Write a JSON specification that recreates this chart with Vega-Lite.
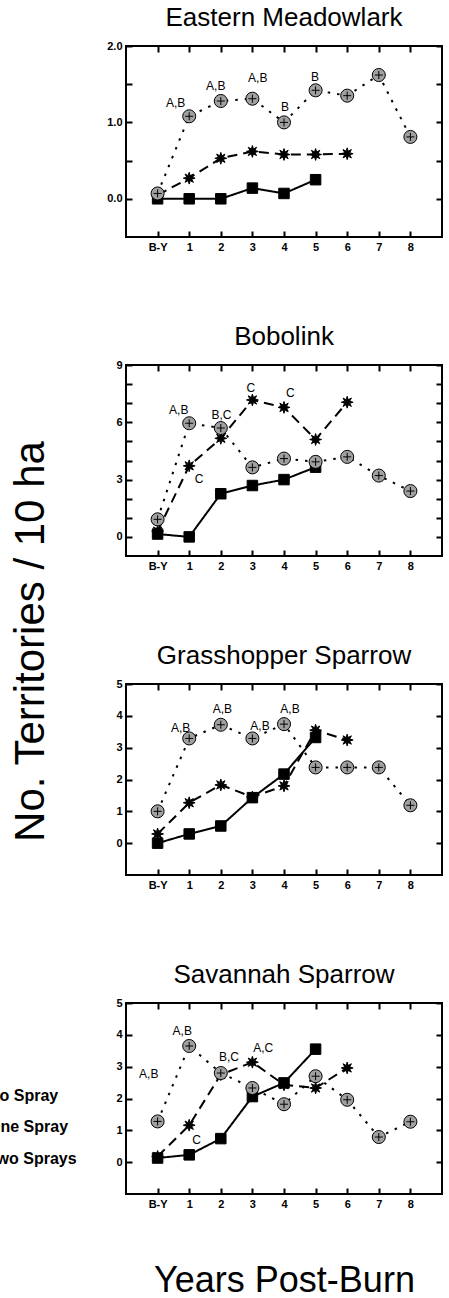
{
  "$schema": "https://vega.github.io/schema/vega-lite/v6.json",
  "padding": {"left": -35, "top": 4, "right": 4, "bottom": 0},
  "background": "white",
  "bounds": "flush",
  "spacing": 128,
  "resolve": {"legend": {"shape": "independent"}},
  "config": {
    "font": "Liberation Sans",
    "view": {"stroke": "black", "strokeWidth": 2},
    "axis": {
      "grid": false, "domain": false, "tickColor": "black", "tickWidth": 2, "tickSize": -6,
      "labelFont": "Liberation Sans", "labelFontWeight": "bold", "labelFontSize": 11,
      "labelColor": "black", "labelPadding": 10
    },
    "legend": {"labelFontSize": 16, "labelFontWeight": "bold", "labelFont": "Liberation Sans", "labelColor": "black", "symbolSize": 100, "labelOffset": 6, "rowPadding": 15.5, "padding": 0, "symbolStrokeColor": "black", "symbolFillColor": "black"},
    "title": {"font": "Liberation Sans", "fontSize": 26, "fontWeight": "normal", "color": "black", "baseline": "alphabetic", "offset": 9, "frame": "group", "anchor": "middle"}
  },
  "datasets": {
    "obs": [
      {"bird": "Eastern Meadowlark", "trt": "No Spray", "year": 0, "value": 0},
      {"bird": "Eastern Meadowlark", "trt": "No Spray", "year": 1, "value": 0},
      {"bird": "Eastern Meadowlark", "trt": "No Spray", "year": 2, "value": 0},
      {"bird": "Eastern Meadowlark", "trt": "No Spray", "year": 3, "value": 0.14},
      {"bird": "Eastern Meadowlark", "trt": "No Spray", "year": 4, "value": 0.07},
      {"bird": "Eastern Meadowlark", "trt": "No Spray", "year": 5, "value": 0.25},
      {"bird": "Eastern Meadowlark", "trt": "One Spray", "year": 0, "value": 0.05},
      {"bird": "Eastern Meadowlark", "trt": "One Spray", "year": 1, "value": 0.27},
      {"bird": "Eastern Meadowlark", "trt": "One Spray", "year": 2, "value": 0.53},
      {"bird": "Eastern Meadowlark", "trt": "One Spray", "year": 3, "value": 0.62},
      {"bird": "Eastern Meadowlark", "trt": "One Spray", "year": 4, "value": 0.58},
      {"bird": "Eastern Meadowlark", "trt": "One Spray", "year": 5, "value": 0.58},
      {"bird": "Eastern Meadowlark", "trt": "One Spray", "year": 6, "value": 0.59},
      {"bird": "Eastern Meadowlark", "trt": "Two Sprays", "year": 0, "value": 0.07},
      {"bird": "Eastern Meadowlark", "trt": "Two Sprays", "year": 1, "value": 1.08},
      {"bird": "Eastern Meadowlark", "trt": "Two Sprays", "year": 2, "value": 1.28},
      {"bird": "Eastern Meadowlark", "trt": "Two Sprays", "year": 3, "value": 1.31},
      {"bird": "Eastern Meadowlark", "trt": "Two Sprays", "year": 4, "value": 1.0},
      {"bird": "Eastern Meadowlark", "trt": "Two Sprays", "year": 5, "value": 1.42},
      {"bird": "Eastern Meadowlark", "trt": "Two Sprays", "year": 6, "value": 1.35},
      {"bird": "Eastern Meadowlark", "trt": "Two Sprays", "year": 7, "value": 1.62},
      {"bird": "Eastern Meadowlark", "trt": "Two Sprays", "year": 8, "value": 0.81},

      {"bird": "Bobolink", "trt": "No Spray", "year": 0, "value": 0.15},
      {"bird": "Bobolink", "trt": "No Spray", "year": 1, "value": 0},
      {"bird": "Bobolink", "trt": "No Spray", "year": 2, "value": 2.26},
      {"bird": "Bobolink", "trt": "No Spray", "year": 3, "value": 2.69},
      {"bird": "Bobolink", "trt": "No Spray", "year": 4, "value": 3.0},
      {"bird": "Bobolink", "trt": "No Spray", "year": 5, "value": 3.65},
      {"bird": "Bobolink", "trt": "One Spray", "year": 0, "value": 0.3},
      {"bird": "Bobolink", "trt": "One Spray", "year": 1, "value": 3.72},
      {"bird": "Bobolink", "trt": "One Spray", "year": 2, "value": 5.16},
      {"bird": "Bobolink", "trt": "One Spray", "year": 3, "value": 7.17},
      {"bird": "Bobolink", "trt": "One Spray", "year": 4, "value": 6.78},
      {"bird": "Bobolink", "trt": "One Spray", "year": 5, "value": 5.1},
      {"bird": "Bobolink", "trt": "One Spray", "year": 6, "value": 7.05},
      {"bird": "Bobolink", "trt": "Two Sprays", "year": 0, "value": 0.92},
      {"bird": "Bobolink", "trt": "Two Sprays", "year": 1, "value": 5.95},
      {"bird": "Bobolink", "trt": "Two Sprays", "year": 2, "value": 5.7},
      {"bird": "Bobolink", "trt": "Two Sprays", "year": 3, "value": 3.64},
      {"bird": "Bobolink", "trt": "Two Sprays", "year": 4, "value": 4.1},
      {"bird": "Bobolink", "trt": "Two Sprays", "year": 5, "value": 3.93},
      {"bird": "Bobolink", "trt": "Two Sprays", "year": 6, "value": 4.19},
      {"bird": "Bobolink", "trt": "Two Sprays", "year": 7, "value": 3.21},
      {"bird": "Bobolink", "trt": "Two Sprays", "year": 8, "value": 2.4},

      {"bird": "Grasshopper Sparrow", "trt": "No Spray", "year": 0, "value": 0},
      {"bird": "Grasshopper Sparrow", "trt": "No Spray", "year": 1, "value": 0.29},
      {"bird": "Grasshopper Sparrow", "trt": "No Spray", "year": 2, "value": 0.54},
      {"bird": "Grasshopper Sparrow", "trt": "No Spray", "year": 3, "value": 1.43},
      {"bird": "Grasshopper Sparrow", "trt": "No Spray", "year": 4, "value": 2.17},
      {"bird": "Grasshopper Sparrow", "trt": "No Spray", "year": 5, "value": 3.32},
      {"bird": "Grasshopper Sparrow", "trt": "One Spray", "year": 0, "value": 0.29},
      {"bird": "Grasshopper Sparrow", "trt": "One Spray", "year": 1, "value": 1.27},
      {"bird": "Grasshopper Sparrow", "trt": "One Spray", "year": 2, "value": 1.83},
      {"bird": "Grasshopper Sparrow", "trt": "One Spray", "year": 3, "value": 1.45},
      {"bird": "Grasshopper Sparrow", "trt": "One Spray", "year": 4, "value": 1.8},
      {"bird": "Grasshopper Sparrow", "trt": "One Spray", "year": 5, "value": 3.55},
      {"bird": "Grasshopper Sparrow", "trt": "One Spray", "year": 6, "value": 3.24},
      {"bird": "Grasshopper Sparrow", "trt": "Two Sprays", "year": 0, "value": 1.0},
      {"bird": "Grasshopper Sparrow", "trt": "Two Sprays", "year": 1, "value": 3.29},
      {"bird": "Grasshopper Sparrow", "trt": "Two Sprays", "year": 2, "value": 3.72},
      {"bird": "Grasshopper Sparrow", "trt": "Two Sprays", "year": 3, "value": 3.29},
      {"bird": "Grasshopper Sparrow", "trt": "Two Sprays", "year": 4, "value": 3.74},
      {"bird": "Grasshopper Sparrow", "trt": "Two Sprays", "year": 5, "value": 2.38},
      {"bird": "Grasshopper Sparrow", "trt": "Two Sprays", "year": 6, "value": 2.38},
      {"bird": "Grasshopper Sparrow", "trt": "Two Sprays", "year": 7, "value": 2.38},
      {"bird": "Grasshopper Sparrow", "trt": "Two Sprays", "year": 8, "value": 1.19},

      {"bird": "Savannah Sparrow", "trt": "No Spray", "year": 0, "value": 0.13},
      {"bird": "Savannah Sparrow", "trt": "No Spray", "year": 1, "value": 0.23},
      {"bird": "Savannah Sparrow", "trt": "No Spray", "year": 2, "value": 0.74},
      {"bird": "Savannah Sparrow", "trt": "No Spray", "year": 3, "value": 2.06},
      {"bird": "Savannah Sparrow", "trt": "No Spray", "year": 4, "value": 2.49},
      {"bird": "Savannah Sparrow", "trt": "No Spray", "year": 5, "value": 3.55},
      {"bird": "Savannah Sparrow", "trt": "One Spray", "year": 0, "value": 0.18},
      {"bird": "Savannah Sparrow", "trt": "One Spray", "year": 1, "value": 1.16},
      {"bird": "Savannah Sparrow", "trt": "One Spray", "year": 2, "value": 2.75},
      {"bird": "Savannah Sparrow", "trt": "One Spray", "year": 3, "value": 3.14},
      {"bird": "Savannah Sparrow", "trt": "One Spray", "year": 4, "value": 2.43},
      {"bird": "Savannah Sparrow", "trt": "One Spray", "year": 5, "value": 2.33},
      {"bird": "Savannah Sparrow", "trt": "One Spray", "year": 6, "value": 2.96},
      {"bird": "Savannah Sparrow", "trt": "Two Sprays", "year": 0, "value": 1.28},
      {"bird": "Savannah Sparrow", "trt": "Two Sprays", "year": 1, "value": 3.65},
      {"bird": "Savannah Sparrow", "trt": "Two Sprays", "year": 2, "value": 2.8},
      {"bird": "Savannah Sparrow", "trt": "Two Sprays", "year": 3, "value": 2.33},
      {"bird": "Savannah Sparrow", "trt": "Two Sprays", "year": 4, "value": 1.82},
      {"bird": "Savannah Sparrow", "trt": "Two Sprays", "year": 5, "value": 2.7},
      {"bird": "Savannah Sparrow", "trt": "Two Sprays", "year": 6, "value": 1.96},
      {"bird": "Savannah Sparrow", "trt": "Two Sprays", "year": 7, "value": 0.79},
      {"bird": "Savannah Sparrow", "trt": "Two Sprays", "year": 8, "value": 1.27}
    ],
    "ann": [
      {"bird": "Eastern Meadowlark", "label": "A,B", "year": 0.57, "value": 1.26},
      {"bird": "Eastern Meadowlark", "label": "A,B", "year": 1.84, "value": 1.47},
      {"bird": "Eastern Meadowlark", "label": "A,B", "year": 3.17, "value": 1.58},
      {"bird": "Eastern Meadowlark", "label": "B", "year": 4.03, "value": 1.2},
      {"bird": "Eastern Meadowlark", "label": "B", "year": 4.98, "value": 1.59},
      {"bird": "Bobolink", "label": "A,B", "year": 0.67, "value": 6.62},
      {"bird": "Bobolink", "label": "B,C", "year": 2.02, "value": 6.4},
      {"bird": "Bobolink", "label": "C", "year": 2.95, "value": 7.81},
      {"bird": "Bobolink", "label": "C", "year": 4.2, "value": 7.52},
      {"bird": "Bobolink", "label": "C", "year": 1.31, "value": 3.04},
      {"bird": "Grasshopper Sparrow", "label": "A,B", "year": 0.73, "value": 3.62},
      {"bird": "Grasshopper Sparrow", "label": "A,B", "year": 2.05, "value": 4.22},
      {"bird": "Grasshopper Sparrow", "label": "A,B", "year": 3.24, "value": 3.69},
      {"bird": "Grasshopper Sparrow", "label": "A,B", "year": 4.19, "value": 4.22},
      {"bird": "Savannah Sparrow", "label": "A,B", "year": -0.28, "value": 2.77},
      {"bird": "Savannah Sparrow", "label": "A,B", "year": 0.78, "value": 4.13},
      {"bird": "Savannah Sparrow", "label": "B,C", "year": 2.26, "value": 3.3},
      {"bird": "Savannah Sparrow", "label": "A,C", "year": 3.34, "value": 3.6},
      {"bird": "Savannah Sparrow", "label": "C", "year": 1.23, "value": 0.69}
    ]
  },
  "vconcat": [
    {
      "title": "Eastern Meadowlark",
      "width": 316, "height": 191,
      "data": {"name": "obs"},
      "transform": [{"filter": "datum.bird === 'Eastern Meadowlark'"}],
      "layer": [
        {
          "encoding": {
            "x": {"field": "year", "type": "quantitative", "scale": {"domain": [-1, 9], "nice": false, "zero": false},
                  "axis": {"orient": "bottom", "values": [0,1,2,3,4,5,6,7,8], "labelExpr": "datum.value === 0 ? 'B-Y' : datum.label", "title": null}},
            "y": {"field": "value", "type": "quantitative", "scale": {"domain": [-0.5, 2], "nice": false, "zero": false},
                  "axis": {"orient": "left", "values": [0, 0.5, 1, 1.5, 2], "labelExpr": "datum.value % 1 === 0 ? format(datum.value, '.1f') : ''", "title": null}}
          },
          "layer": [
            {"mark": {"type": "line", "color": "black", "strokeWidth": 2},
             "encoding": {"detail": {"field": "trt"}, "strokeDash": {"field": "trt", "type": "nominal", "scale": {"domain": ["No Spray", "One Spray", "Two Sprays"], "range": [[1, 0], [10, 6], [2.5, 7]]}, "legend": null}}},
            {"mark": {"type": "point", "filled": true, "stroke": "black", "strokeWidth": 1, "opacity": 1},
             "encoding": {
               "shape": {"field": "trt", "type": "nominal", "scale": {"domain": ["No Spray", "One Spray", "Two Sprays"], "range": ["square", "M1,0L0.416,0.172L0.707,0.707L0.172,0.416L0,1L-0.172,0.416L-0.707,0.707L-0.416,0.172L-1,0L-0.416,-0.172L-0.707,-0.707L-0.172,-0.416L0,-1L0.172,-0.416L0.707,-0.707L0.416,-0.172Z", "circle"]}, "legend": null},
               "fill": {"field": "trt", "type": "nominal", "scale": {"domain": ["No Spray", "One Spray", "Two Sprays"], "range": ["black", "black", "#a0a0a0"]}, "legend": null},
               "size": {"field": "trt", "type": "nominal", "scale": {"domain": ["No Spray", "One Spray", "Two Sprays"], "range": [110, 170, 100]}, "legend": null}
             }},
            {"transform": [{"filter": "datum.trt === 'Two Sprays'"}],
             "mark": {"type": "point", "shape": "M-0.8,0L0.8,0M0,-0.8L0,0.8", "stroke": "black", "strokeWidth": 1, "size": 100, "opacity": 1}},
            {"data": {"name": "ann"}, "transform": [{"filter": "datum.bird === 'Eastern Meadowlark'"}],
             "mark": {"type": "text", "fontSize": 12, "color": "black", "align": "center", "baseline": "middle"},
             "encoding": {"text": {"field": "label"}}}
          ]
        },
        {
          "mark": {"type": "point", "opacity": 0},
          "encoding": {
            "x": {"field": "year", "type": "quantitative", "axis": {"orient": "top", "values": [0,1,2,3,4,5,6,7,8], "labels": false, "title": null}},
            "y": {"field": "value", "type": "quantitative", "axis": {"orient": "right", "values": [0, 0.5, 1, 1.5, 2], "labels": false, "title": null}}
          }
        }
      ],
      "resolve": {"axis": {"x": "independent", "y": "independent"}}
    },
    {
      "title": "Bobolink",
      "width": 316, "height": 191,
      "data": {"name": "obs"},
      "transform": [{"filter": "datum.bird === 'Bobolink'"}],
      "layer": [
        {
          "encoding": {
            "x": {"field": "year", "type": "quantitative", "scale": {"domain": [-1, 9], "nice": false, "zero": false},
                  "axis": {"orient": "bottom", "values": [0,1,2,3,4,5,6,7,8], "labelExpr": "datum.value === 0 ? 'B-Y' : datum.label", "title": null}},
            "y": {"field": "value", "type": "quantitative", "scale": {"domain": [-1, 9], "nice": false, "zero": false},
                  "axis": {"orient": "left", "values": [0,1,2,3,4,5,6,7,8,9], "labelExpr": "datum.value % 3 === 0 ? datum.label : ''",
                           "title": "No. Territories / 10 ha", "titleFontSize": 42, "titleFont": "Liberation Sans", "titleFontWeight": "normal", "titleColor": "black",
                           "titleX": -83, "titleY": 276, "titleAngle": 270, "titleAlign": "center", "titleBaseline": "alphabetic"}}
          },
          "layer": [
            {"mark": {"type": "line", "color": "black", "strokeWidth": 2},
             "encoding": {"detail": {"field": "trt"}, "strokeDash": {"field": "trt", "type": "nominal", "legend": null}}},
            {"mark": {"type": "point", "filled": true, "stroke": "black", "strokeWidth": 1, "opacity": 1},
             "encoding": {
               "shape": {"field": "trt", "type": "nominal", "legend": null},
               "fill": {"field": "trt", "type": "nominal", "legend": null},
               "size": {"field": "trt", "type": "nominal", "legend": null}
             }},
            {"transform": [{"filter": "datum.trt === 'Two Sprays'"}],
             "mark": {"type": "point", "shape": "M-0.8,0L0.8,0M0,-0.8L0,0.8", "stroke": "black", "strokeWidth": 1, "size": 100, "opacity": 1}},
            {"data": {"name": "ann"}, "transform": [{"filter": "datum.bird === 'Bobolink'"}],
             "mark": {"type": "text", "fontSize": 12, "color": "black", "align": "center", "baseline": "middle"},
             "encoding": {"text": {"field": "label"}}}
          ]
        },
        {
          "mark": {"type": "point", "opacity": 0},
          "encoding": {
            "x": {"field": "year", "type": "quantitative", "axis": {"orient": "top", "values": [0,1,2,3,4,5,6,7,8], "labels": false, "title": null}},
            "y": {"field": "value", "type": "quantitative", "axis": {"orient": "right", "values": [0,1,2,3,4,5,6,7,8,9], "labels": false, "title": null}}
          }
        }
      ],
      "resolve": {"axis": {"x": "independent", "y": "independent"}}
    },
    {
      "title": "Grasshopper Sparrow",
      "width": 316, "height": 191,
      "data": {"name": "obs"},
      "transform": [{"filter": "datum.bird === 'Grasshopper Sparrow'"}],
      "layer": [
        {
          "encoding": {
            "x": {"field": "year", "type": "quantitative", "scale": {"domain": [-1, 9], "nice": false, "zero": false},
                  "axis": {"orient": "bottom", "values": [0,1,2,3,4,5,6,7,8], "labelExpr": "datum.value === 0 ? 'B-Y' : datum.label", "title": null}},
            "y": {"field": "value", "type": "quantitative", "scale": {"domain": [-1, 5], "nice": false, "zero": false},
                  "axis": {"orient": "left", "values": [0,1,2,3,4,5], "title": null}}
          },
          "layer": [
            {"mark": {"type": "line", "color": "black", "strokeWidth": 2},
             "encoding": {"detail": {"field": "trt"}, "strokeDash": {"field": "trt", "type": "nominal", "legend": null}}},
            {"mark": {"type": "point", "filled": true, "stroke": "black", "strokeWidth": 1, "opacity": 1},
             "encoding": {
               "shape": {"field": "trt", "type": "nominal", "legend": null},
               "fill": {"field": "trt", "type": "nominal", "legend": null},
               "size": {"field": "trt", "type": "nominal", "legend": null}
             }},
            {"transform": [{"filter": "datum.trt === 'Two Sprays'"}],
             "mark": {"type": "point", "shape": "M-0.8,0L0.8,0M0,-0.8L0,0.8", "stroke": "black", "strokeWidth": 1, "size": 100, "opacity": 1}},
            {"data": {"name": "ann"}, "transform": [{"filter": "datum.bird === 'Grasshopper Sparrow'"}],
             "mark": {"type": "text", "fontSize": 12, "color": "black", "align": "center", "baseline": "middle"},
             "encoding": {"text": {"field": "label"}}}
          ]
        },
        {
          "mark": {"type": "point", "opacity": 0},
          "encoding": {
            "x": {"field": "year", "type": "quantitative", "axis": {"orient": "top", "values": [0,1,2,3,4,5,6,7,8], "labels": false, "title": null}},
            "y": {"field": "value", "type": "quantitative", "axis": {"orient": "right", "values": [0,1,2,3,4,5], "labels": false, "title": null}}
          }
        }
      ],
      "resolve": {"axis": {"x": "independent", "y": "independent"}}
    },
    {
      "title": "Savannah Sparrow",
      "width": 316, "height": 191,
      "data": {"name": "obs"},
      "transform": [{"filter": "datum.bird === 'Savannah Sparrow'"}],
      "layer": [
        {
          "encoding": {
            "x": {"field": "year", "type": "quantitative", "scale": {"domain": [-1, 9], "nice": false, "zero": false},
                  "axis": {"orient": "bottom", "values": [0,1,2,3,4,5,6,7,8], "labelExpr": "datum.value === 0 ? 'B-Y' : datum.label",
                           "title": "Years Post-Burn", "titleFontSize": 36, "titleFont": "Liberation Sans", "titleFontWeight": "normal", "titleColor": "black",
                           "titleX": 158, "titleY": 97, "titleAlign": "center", "titleBaseline": "alphabetic"}},
            "y": {"field": "value", "type": "quantitative", "scale": {"domain": [-1, 5], "nice": false, "zero": false},
                  "axis": {"orient": "left", "values": [0,1,2,3,4,5], "title": null}}
          },
          "layer": [
            {"mark": {"type": "line", "color": "black", "strokeWidth": 2},
             "encoding": {"detail": {"field": "trt"}, "strokeDash": {"field": "trt", "type": "nominal", "legend": null}}},
            {"mark": {"type": "point", "filled": true, "stroke": "black", "strokeWidth": 1, "opacity": 1},
             "encoding": {
               "shape": {"field": "trt", "type": "nominal", "title": null, "legend": {"orient": "none", "legendX": -160, "legendY": 84.5}},
               "fill": {"field": "trt", "type": "nominal", "legend": null},
               "size": {"field": "trt", "type": "nominal", "legend": null}
             }},
            {"transform": [{"filter": "datum.trt === 'Two Sprays'"}],
             "mark": {"type": "point", "shape": "M-0.8,0L0.8,0M0,-0.8L0,0.8", "stroke": "black", "strokeWidth": 1, "size": 100, "opacity": 1}},
            {"data": {"name": "ann"}, "transform": [{"filter": "datum.bird === 'Savannah Sparrow'"}],
             "mark": {"type": "text", "fontSize": 12, "color": "black", "align": "center", "baseline": "middle"},
             "encoding": {"text": {"field": "label"}}}
          ]
        },
        {
          "mark": {"type": "point", "opacity": 0},
          "encoding": {
            "x": {"field": "year", "type": "quantitative", "axis": {"orient": "top", "values": [0,1,2,3,4,5,6,7,8], "labels": false, "title": null}},
            "y": {"field": "value", "type": "quantitative", "axis": {"orient": "right", "values": [0,1,2,3,4,5], "labels": false, "title": null}}
          }
        }
      ],
      "resolve": {"axis": {"x": "independent", "y": "independent"}}
    }
  ]
}
